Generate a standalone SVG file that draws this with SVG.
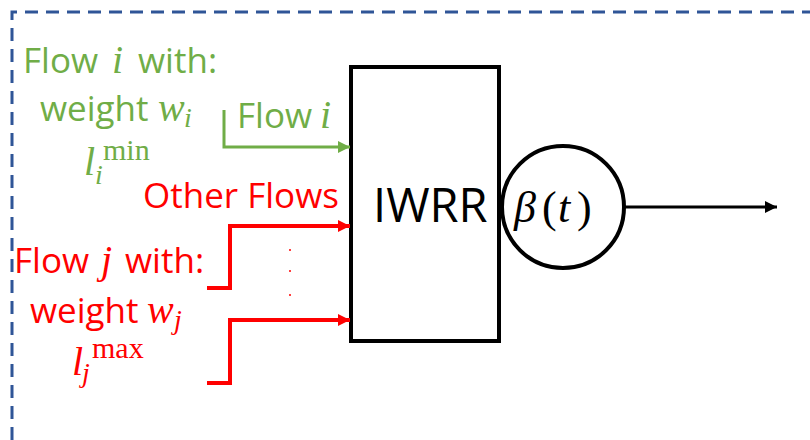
<svg xmlns="http://www.w3.org/2000/svg" width="810" height="440" viewBox="0 0 810 440">
  <defs>
    <marker id="ah-green" viewBox="0 0 10 10" refX="10" refY="5" markerWidth="4" markerHeight="4" markerUnits="strokeWidth" orient="auto">
      <path d="M0,0 L10,5 L0,10 Z" fill="#70AD47"/>
    </marker>
    <marker id="ah-red" viewBox="0 0 10 10" refX="10" refY="5" markerWidth="3.3" markerHeight="3" markerUnits="strokeWidth" orient="auto">
      <path d="M0,0 L10,5 L0,10 Z" fill="#FF0000"/>
    </marker>
    <marker id="ah-black" viewBox="0 0 10 10" refX="10" refY="5" markerWidth="4.5" markerHeight="4" markerUnits="strokeWidth" orient="auto">
      <path d="M0,0 L10,5 L0,10 Z" fill="#000"/>
    </marker>
  </defs>
  <style>
    .txt { font-family: "Open Sans", "Liberation Sans", sans-serif; font-size: 35px; }
    .math { font-family: "Liberation Serif", "DejaVu Serif", serif; font-style: italic; font-size: 40px; }
    .sub { font-family: "Liberation Serif", "DejaVu Serif", serif; font-style: italic; font-size: 28px; }
    .sup { font-family: "Liberation Serif", "DejaVu Serif", serif; font-size: 30px; }
    .green { fill: #70AD47; }
    .red { fill: #FF0000; }
    .wire-green { fill: none; stroke: #70AD47; stroke-width: 3; }
    .wire-red { fill: none; stroke: #FF0000; stroke-width: 4; }
  </style>

  <rect width="810" height="440" fill="#fff"/>

  <!-- dashed enclosure -->
  <path d="M12,440 L12,12 L810,12" fill="none" stroke="#2F5597" stroke-width="3" stroke-dasharray="13 8"/>

  <!-- scheduler block -->
  <g id="iwrr">
    <rect x="351" y="67" width="148" height="274" fill="#fff" stroke="#000" stroke-width="4"/>
    <text class="txt" x="373" y="222" style="font-size:47px">IWRR</text>
  </g>

  <!-- service curve -->
  <g id="beta">
    <circle cx="563" cy="207" r="61" fill="#fff" stroke="#000" stroke-width="4"/>
    <text x="514" y="222" font-family="Liberation Serif, DejaVu Serif, serif" font-size="44"><tspan font-style="italic">β</tspan><tspan x="542">(</tspan><tspan x="558" font-style="italic">t</tspan><tspan x="577">)</tspan></text>
  </g>

  <!-- flow i description -->
  <g id="flow-i-label" class="green">
    <text class="txt" x="23" y="73">Flow<tspan class="math" x="112">i</tspan><tspan x="138">with:</tspan></text>
    <text class="txt" x="40" y="121">weight<tspan class="math" x="158">w</tspan><tspan class="sub" x="184" dy="6">i</tspan></text>
    <text class="math" x="84" y="175">l</text>
    <text class="sub" x="95" y="184">i</text>
    <text class="sup" x="103" y="160">min</text>
    <text class="txt" x="237" y="128">Flow<tspan class="math" x="320">i</tspan></text>
  </g>

  <!-- flow j description -->
  <g id="flow-j-label" class="red">
    <text class="txt" x="143" y="208">Other Flows</text>
    <text class="txt" x="14" y="273">Flow<tspan class="math" x="101">j</tspan><tspan x="125">with:</tspan></text>
    <text class="txt" x="30" y="323">weight<tspan class="math" x="147">w</tspan><tspan class="sub" x="174" dy="6">j</tspan></text>
    <text class="math" x="72" y="375">l</text>
    <text class="sub" x="82" y="382">j</text>
    <text class="sup" x="92" y="358">max</text>
    <circle cx="290" cy="250" r="1" fill="#FF0000"/>
    <circle cx="290" cy="271" r="1" fill="#FF0000"/>
    <circle cx="290" cy="295" r="1" fill="#FF0000"/>
  </g>

  <!-- connectors -->
  <g id="connectors">
    <path class="wire-green" d="M224,110 L224,147 L350,147" marker-end="url(#ah-green)"/>
    <path class="wire-red" d="M207,288 L230,288 L230,226 L350,226" marker-end="url(#ah-red)"/>
    <path class="wire-red" d="M207,383 L230,383 L230,320 L350,320" marker-end="url(#ah-red)"/>
    <path d="M625,207 L777,207" fill="none" stroke="#000" stroke-width="3" marker-end="url(#ah-black)"/>
  </g>
</svg>
